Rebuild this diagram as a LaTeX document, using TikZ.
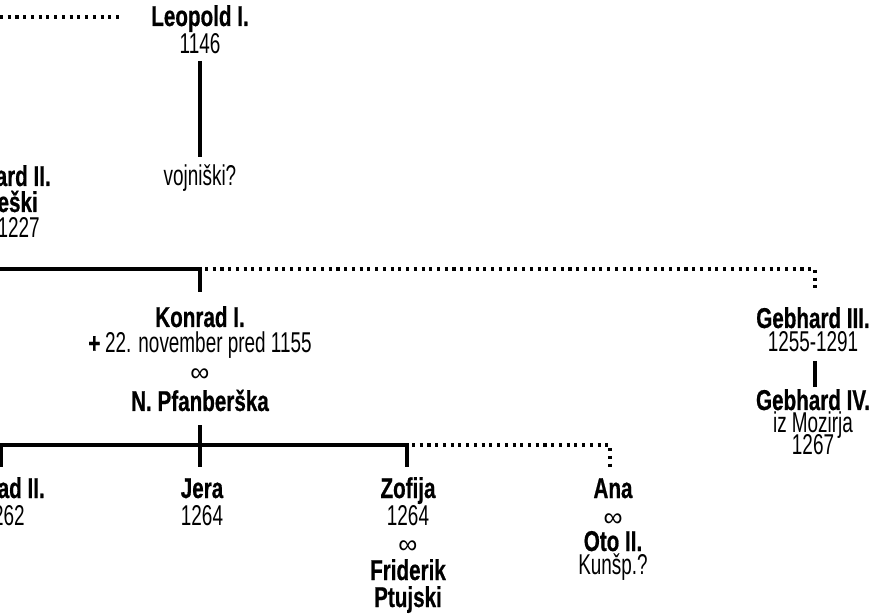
\documentclass[tikz,border=0pt]{standalone}
\usepackage{fontspec}
\newfontfamily\bdfont{Liberation Sans}[FakeStretch=0.72, BoldFeatures={FakeBold=0.6}]
\newfontfamily\rgfont{Liberation Sans}[FakeStretch=0.66]
\newfontfamily\symfont{Liberation Sans}
\begin{document}
\begin{tikzpicture}[x=0.75pt,y=-0.75pt,
  nm/.style={inner sep=0pt, anchor=base, font=\bdfont\bfseries\fontsize{21.5}{22}\selectfont},
  rg/.style={inner sep=0pt, anchor=base, font=\rgfont\fontsize{21.5}{22}\selectfont},
  inf/.style={inner sep=0pt, anchor=center, font=\symfont\fontsize{20}{20}\selectfont},
  solidline/.style={line width=2.6pt},
  dotline/.style={line width=2.3pt, dash pattern=on 2.3pt off 3.5pt}]
\useasboundingbox (0,0) rectangle (878,616);

% ---------- top ----------
\coordinate (tl0) at (0,17);
\coordinate (tl1) at (120,17);
\draw[dotline] (tl0) -- (tl1);

\node[nm] (leopold) at (200,26) {Leopold I.};
\node[rg] (leopoldy) at (200,54) {1146};
\node[rg] (vojniski) at (200,186) {vojniški?};
\coordinate (lv0) at (200,61);
\coordinate (lv1) at (200,157);
\draw[solidline] (lv0) -- (lv1);

% ---------- cut-off left person ----------
\node[nm, anchor=base east] (gb2a) at (51,186) {ard II.};
\node[nm, anchor=base east] (gb2b) at (38,212) {eški};
\node[rg, anchor=base east] (gb2c) at (40,238) {1227};

% ---------- second generation line ----------
\coordinate (h0) at (0,269);
\coordinate (hk) at (200,269);
\coordinate (hkd) at (200,292);
\coordinate (hd0) at (205,269);
\coordinate (hg) at (815,269);
\coordinate (hgd) at (815,292);
\draw[solidline] (h0) -- (hk) -- (hkd);
\draw[dotline] (hd0) -- (hg) -- (hgd);

% ---------- Konrad I. ----------
\node[nm] (konrad) at (200,327) {Konrad I.};
\node[rg] (konrady) at (200,353) {{\bdfont\bfseries +}\,22. november pred 1155};
\node[inf] (konradm) at (200,375) {∞};
\node[nm] (pfan) at (200,411) {N. Pfanberška};

% ---------- Gebhard III./IV. ----------
\node[nm] (gb3) at (813,328) {Gebhard III.};
\node[rg] (gb3y) at (813,352) {1255-1291};
\coordinate (gv0) at (815,361);
\coordinate (gv1) at (815,387);
\draw[solidline] (gv0) -- (gv1);
\node[nm] (gb4) at (813,410) {Gebhard IV.};
\node[rg] (gb4a) at (813,432) {iz Mozirja};
\node[rg] (gb4y) at (813,454) {1267};

% ---------- children line ----------
\coordinate (cv0) at (200,425);
\coordinate (cv1) at (200,467);
\draw[solidline] (cv0) -- (cv1);
\coordinate (c0d) at (1,467);
\coordinate (c0) at (1,445);
\coordinate (cz) at (407,445);
\coordinate (czd) at (407,467);
\draw[solidline] (c0d) -- (c0) -- (cz) -- (czd);
\coordinate (cd0) at (412,445);
\coordinate (ca) at (610,445);
\coordinate (cad) at (610,467);
\draw[dotline] (cd0) -- (ca) -- (cad);

% ---------- children ----------
\node[nm, anchor=base east] (k2a) at (45,498) {ad II.};
\node[rg, anchor=base east] (k2b) at (25,525) {262};

\node[nm] (jera) at (202,498) {Jera};
\node[rg] (jeray) at (202,525) {1264};

\node[nm] (zofija) at (408,498) {Zofija};
\node[rg] (zofijay) at (408,525) {1264};
\node[inf] (zofijam) at (408,547) {∞};
\node[nm] (frid) at (408,580) {Friderik};
\node[nm] (ptuj) at (408,607) {Ptujski};

\node[nm] (ana) at (613,498) {Ana};
\node[inf] (anam) at (613,520) {∞};
\node[nm] (oto) at (613,551) {Oto II.};
\node[rg] (otoa) at (613,574) {Kunšp.?};
\end{tikzpicture}
\end{document}
